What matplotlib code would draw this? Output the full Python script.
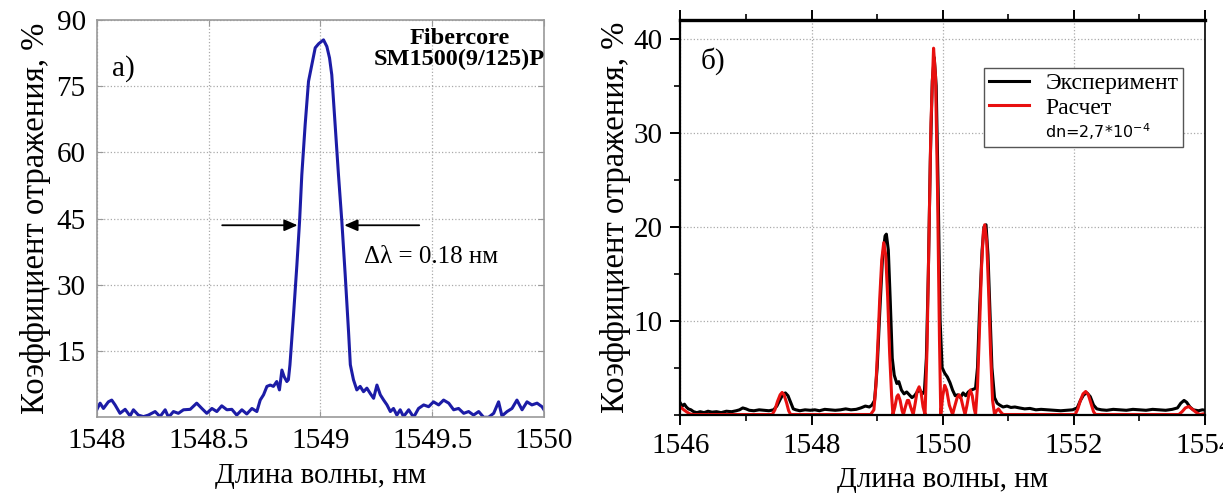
import matplotlib
matplotlib.use('Agg')
import matplotlib.pyplot as plt
from matplotlib.lines import Line2D
from matplotlib.ticker import MultipleLocator

plt.rcParams['font.family'] = ['Liberation Serif', 'DejaVu Serif']
plt.rcParams['mathtext.fontset'] = 'dejavusans'

# --- panel a): Fibercore SM1500(9/125)P reflection spectrum ---
wl_a = [1548.000, 1548.015, 1548.030, 1548.052, 1548.067, 1548.082, 1548.104, 1548.127,
        1548.149, 1548.164, 1548.186, 1548.209, 1548.231, 1548.261, 1548.283, 1548.306,
        1548.321, 1548.343, 1548.365, 1548.388, 1548.418, 1548.447, 1548.470, 1548.492,
        1548.515, 1548.537, 1548.559, 1548.582, 1548.604, 1548.626, 1548.649, 1548.671,
        1548.694, 1548.716, 1548.731, 1548.746, 1548.761, 1548.776, 1548.790, 1548.805,
        1548.817, 1548.828, 1548.838, 1548.850, 1548.857, 1548.864, 1548.880, 1548.895,
        1548.907, 1548.917, 1548.932, 1548.947, 1548.962, 1548.977, 1548.992, 1549.014,
        1549.029, 1549.041, 1549.051, 1549.066, 1549.081, 1549.096, 1549.111, 1549.126,
        1549.134, 1549.148, 1549.163, 1549.178, 1549.193, 1549.208, 1549.223, 1549.238,
        1549.253, 1549.268, 1549.283, 1549.298, 1549.313, 1549.327, 1549.342, 1549.357,
        1549.372, 1549.395, 1549.417, 1549.439, 1549.462, 1549.484, 1549.506, 1549.529,
        1549.551, 1549.574, 1549.596, 1549.618, 1549.641, 1549.663, 1549.685, 1549.708,
        1549.730, 1549.752, 1549.775, 1549.797, 1549.812, 1549.835, 1549.857, 1549.879,
        1549.902, 1549.924, 1549.946, 1549.969, 1549.991, 1550.000]
refl_a = [1.7, 3.2, 2.0, 3.5, 3.9, 2.8, 0.9, 1.8,
          0.3, 1.7, 0.5, 0.15, 0.5, 1.3, 0.15, 1.7,
          0.0, 1.3, 0.9, 1.7, 1.8, 3.2, 2.0, 0.9,
          2.0, 1.3, 2.6, 1.7, 1.8, 0.5, 1.7, 0.75,
          2.0, 1.3, 3.9, 5.1, 7.0, 7.3, 7.0, 8.1,
          6.2, 10.7, 9.2, 8.1, 8.5, 11.9, 23.2, 34.5,
          44.4, 54.9, 66.3, 76.1, 79.9, 83.7, 84.6, 85.5,
          84.0, 81.4, 77.6, 66.3, 54.9, 44.4, 32.3, 19.4,
          11.9, 8.5, 6.2, 7.0, 5.8, 6.6, 5.4, 4.3,
          7.3, 5.1, 3.9, 2.8, 1.3, 2.0, 0.5, 1.7,
          0.15, 1.7, 0.0, 2.0, 2.8, 2.4, 3.5, 2.8,
          3.9, 3.2, 1.7, 2.0, 0.9, 1.3, 0.5, 1.3,
          0.0, 0.0, 0.9, 3.5, 0.3, 1.3, 2.0, 3.9,
          1.7, 3.5, 2.8, 3.2, 2.4, 1.7]

# --- panel b): experiment vs calculation ---
wl_exp = [1546.00, 1546.03, 1546.06, 1546.09, 1546.12, 1546.16, 1546.20, 1546.25, 1546.30, 1546.36,
          1546.42, 1546.48, 1546.55, 1546.62, 1546.70, 1546.78, 1546.85, 1546.90, 1546.95, 1547.00,
          1547.05, 1547.12, 1547.20, 1547.28, 1547.35, 1547.42, 1547.47, 1547.52, 1547.56, 1547.60,
          1547.64, 1547.68, 1547.72, 1547.76, 1547.82, 1547.90, 1547.98, 1548.05, 1548.12, 1548.20,
          1548.28, 1548.36, 1548.44, 1548.52, 1548.60, 1548.68, 1548.75, 1548.82, 1548.88, 1548.92,
          1548.96, 1549.00, 1549.04, 1549.08, 1549.12, 1549.14, 1549.17, 1549.20, 1549.23, 1549.26,
          1549.30, 1549.33, 1549.37, 1549.41, 1549.45, 1549.49, 1549.53, 1549.57, 1549.61, 1549.65,
          1549.69, 1549.72, 1549.75, 1549.78, 1549.81, 1549.84, 1549.87, 1549.90, 1549.93, 1549.96,
          1549.99, 1550.03, 1550.07, 1550.11, 1550.15, 1550.19, 1550.23, 1550.27, 1550.31, 1550.35,
          1550.39, 1550.43, 1550.47, 1550.50, 1550.53, 1550.56, 1550.60, 1550.63, 1550.66, 1550.69,
          1550.72, 1550.75, 1550.79, 1550.83, 1550.87, 1550.92, 1550.98, 1551.04, 1551.10, 1551.17,
          1551.25, 1551.33, 1551.42, 1551.50, 1551.60, 1551.70, 1551.80, 1551.90, 1551.98, 1552.05,
          1552.10, 1552.15, 1552.20, 1552.25, 1552.30, 1552.35, 1552.42, 1552.50, 1552.60, 1552.70,
          1552.80, 1552.90, 1553.00, 1553.10, 1553.20, 1553.30, 1553.40, 1553.50, 1553.58, 1553.63,
          1553.68, 1553.72, 1553.77, 1553.82, 1553.90, 1553.96, 1554.00]
refl_exp = [1.2, 0.9, 1.1, 0.8, 0.6, 0.5, 0.3, 0.2, 0.3, 0.2,
            0.35, 0.25, 0.3, 0.2, 0.35, 0.3, 0.4, 0.5, 0.7, 0.6,
            0.45, 0.4, 0.5, 0.45, 0.4, 0.5, 0.9, 1.6, 2.1, 2.3,
            2.0, 1.3, 0.6, 0.5, 0.4, 0.5, 0.45, 0.5, 0.4, 0.55,
            0.5, 0.45, 0.5, 0.6, 0.5, 0.55, 0.7, 0.9, 0.8, 1.0,
            1.5, 5.0, 11.0, 16.5, 19.0, 19.2, 17.5, 12.0, 6.0, 4.2,
            3.3, 3.5, 2.6, 2.2, 2.4, 2.1, 1.8, 2.0, 2.4, 2.6,
            2.2, 2.5, 6.0, 15.0, 27.0, 35.5, 38.0, 35.0, 24.0, 10.0,
            5.0, 4.4, 4.0, 3.4, 2.6, 2.0, 2.1, 1.8, 2.3, 2.0,
            2.4, 2.6, 2.7, 2.8, 5.0, 11.0, 17.5, 20.0, 20.2, 17.0,
            11.0, 5.0, 1.8, 1.2, 1.0, 0.8, 0.9, 0.75, 0.8, 0.7,
            0.6, 0.65, 0.5, 0.55, 0.5, 0.45, 0.4, 0.45, 0.5, 0.7,
            1.5, 2.1, 2.3, 1.9, 1.0, 0.6, 0.5, 0.45, 0.55, 0.5,
            0.45, 0.55, 0.5, 0.45, 0.55, 0.5, 0.45, 0.55, 0.7, 1.2,
            1.5, 1.3, 0.8, 0.5, 0.4, 0.5, 0.45]

wl_calc = [1546.00, 1546.05, 1546.10, 1546.15, 1546.20, 1547.40, 1547.44, 1547.48, 1547.52, 1547.55,
           1547.58, 1547.62, 1547.65, 1547.68, 1548.90, 1548.95, 1548.98, 1549.01, 1549.04, 1549.07,
           1549.10, 1549.13, 1549.16, 1549.19, 1549.22, 1549.24, 1549.27, 1549.30, 1549.32, 1549.35,
           1549.38, 1549.40, 1549.43, 1549.46, 1549.48, 1549.51, 1549.55, 1549.58, 1549.61, 1549.64,
           1549.67, 1549.70, 1549.73, 1549.76, 1549.79, 1549.82, 1549.86, 1549.89, 1549.92, 1549.95,
           1549.97, 1550.00, 1550.03, 1550.06, 1550.10, 1550.15, 1550.18, 1550.22, 1550.25, 1550.28,
           1550.31, 1550.34, 1550.37, 1550.40, 1550.42, 1550.45, 1550.48, 1550.50, 1550.53, 1550.56,
           1550.59, 1550.62, 1550.64, 1550.67, 1550.70, 1550.73, 1550.76, 1550.79, 1550.82, 1550.85,
           1550.88, 1550.92, 1552.02, 1552.06, 1552.10, 1552.14, 1552.18, 1552.22, 1552.26, 1552.30,
           1552.33, 1553.60, 1553.65, 1553.70, 1553.75, 1553.80, 1553.86, 1553.92, 1554.00]
refl_calc = [0.8, 0.5, 0.25, 0.05, 0.0, 0.0, 0.5, 1.4, 2.1, 2.35,
             2.1, 1.2, 0.4, 0.0, 0.0, 0.5, 3.0, 7.5, 12.5, 16.5,
             18.3, 17.0, 12.5, 6.5, 2.0, 0.0, 0.8, 1.9, 2.1, 1.5,
             0.4, 0.0, 0.8, 1.5, 1.5, 0.8, 0.0, 1.2, 2.5, 2.95,
             2.3, 0.8, 0.0, 7.0, 19.0, 31.0, 39.0, 36.0, 24.0, 8.0,
             0.0, 2.0, 3.1, 2.6, 1.0, 0.0, 0.8, 1.8, 2.1, 1.7,
             0.8, 0.0, 1.0, 2.2, 2.6, 2.0, 0.6, 0.0, 3.0, 9.0,
             15.5, 19.5, 20.2, 18.5, 13.0, 6.5, 1.5, 0.0, 0.4, 0.6,
             0.3, 0.0, 0.0, 0.6, 1.5, 2.2, 2.45, 2.1, 1.2, 0.3,
             0.0, 0.0, 0.3, 0.7, 0.85, 0.6, 0.25, 0.0, 0.1]

fig = plt.figure(figsize=(12.23, 4.95), dpi=100)
ax1 = fig.add_axes([0.0791, 0.157, 0.3657, 0.8026])
ax2 = fig.add_axes([0.5564, 0.1626, 0.4289, 0.797])

# ---------- left panel (MATLAB look) ----------
ax1.plot(wl_a, refl_a, color='#1c1ca6', lw=2.2)
ax1.set_xlim(1548, 1550)
ax1.set_ylim(0, 90)
ax1.set_xticks([1548, 1548.5, 1549, 1549.5, 1550])
ax1.set_xticklabels(['1548', '1548.5', '1549', '1549.5', '1550'])
ax1.set_yticks([15, 30, 45, 60, 75, 90])
ax1.grid(True, linestyle=':', color='#aaaaaa', lw=0.9)
for s in ax1.spines.values():
    s.set_color('#999999')
    s.set_linewidth(1.2)
ax1.tick_params(direction='in', length=4, color='#999999', labelsize=21,
                top=True, right=True, pad=8)
ax1.set_xlabel('Длина волны, нм', fontsize=21, labelpad=6)
ax1.set_ylabel('Коэффициент отражения, %', fontsize=23.5, labelpad=4)

ax1.text(1548.068, 79, 'а)', fontsize=21, va='center', ha='left')
ax1.text(1549.621, 85.8, 'Fibercore', fontsize=17.5, fontweight='bold', ha='center', va='center')
ax1.text(1549.621, 81.0, 'SM1500(9/125)P', fontsize=17.5, fontweight='bold', ha='center', va='center')
arrow = dict(arrowstyle='-|>,head_length=0.8,head_width=0.35', color='black', lw=1.3,
             shrinkA=0, shrinkB=0)
ax1.annotate('', xy=(1548.898, 43.5), xytext=(1548.561, 43.5), arrowprops=arrow)
ax1.annotate('', xy=(1549.107, 43.5), xytext=(1549.442, 43.5), arrowprops=arrow)
ax1.text(1549.197, 36.3, 'Δλ = 0.18 нм', fontsize=18, ha='left', va='center')

# ---------- right panel (Origin look) ----------
ax2.plot(wl_exp, refl_exp, color='black', lw=2.2, label='Эксперимент')
ax2.plot(wl_calc, refl_calc, color='#e8100f', lw=2.2, label='Расчет')
ax2.set_xlim(1546, 1554)
ax2.set_ylim(0, 42)
ax2.xaxis.set_major_locator(MultipleLocator(2))
ax2.xaxis.set_minor_locator(MultipleLocator(1))
ax2.set_yticks([10, 20, 30, 40])
ax2.yaxis.set_minor_locator(MultipleLocator(5))
ax2.grid(True, which='major', linestyle=':', color='#aaaaaa', lw=0.9)
ax2.spines['top'].set_linewidth(2.4)
ax2.spines['left'].set_linewidth(1.6)
ax2.spines['bottom'].set_linewidth(1.6)
ax2.spines['right'].set_linewidth(1.2)
ax2.tick_params(which='major', direction='out', length=7, width=1.4, labelsize=21,
                top=True, labeltop=False, pad=6)
ax2.tick_params(which='minor', direction='out', length=4, width=1.2, top=True)
ax2.tick_params(axis='y', which='both', right=False)
ax2.set_xlabel('Длина волны, нм', fontsize=21, labelpad=6)
ax2.set_ylabel('Коэффициент отражения, %', fontsize=23.5, labelpad=2)
ax2.text(1546.3, 37.6, 'б)', fontsize=21, va='center', ha='left')

handles = [Line2D([], [], color='black', lw=2.2),
           Line2D([], [], color='#e8100f', lw=2.2),
           Line2D([], [], color='none')]
labels = ['Эксперимент', 'Расчет', 'dn=2,7*10$^{-4}$']
leg = ax2.legend(handles, labels, loc='upper right', bbox_to_anchor=(0.958, 0.878),
                 borderaxespad=0, fontsize=17, fancybox=False, framealpha=1,
                 edgecolor='#555555', handlelength=1.7, labelspacing=0.12,
                 borderpad=0.2, handletextpad=0.7)
leg.get_frame().set_linewidth(1.0)
leg.get_texts()[2].set_family('DejaVu Sans')
leg.get_texts()[2].set_fontsize(11.5)

fig.savefig('out.png', dpi=100)
